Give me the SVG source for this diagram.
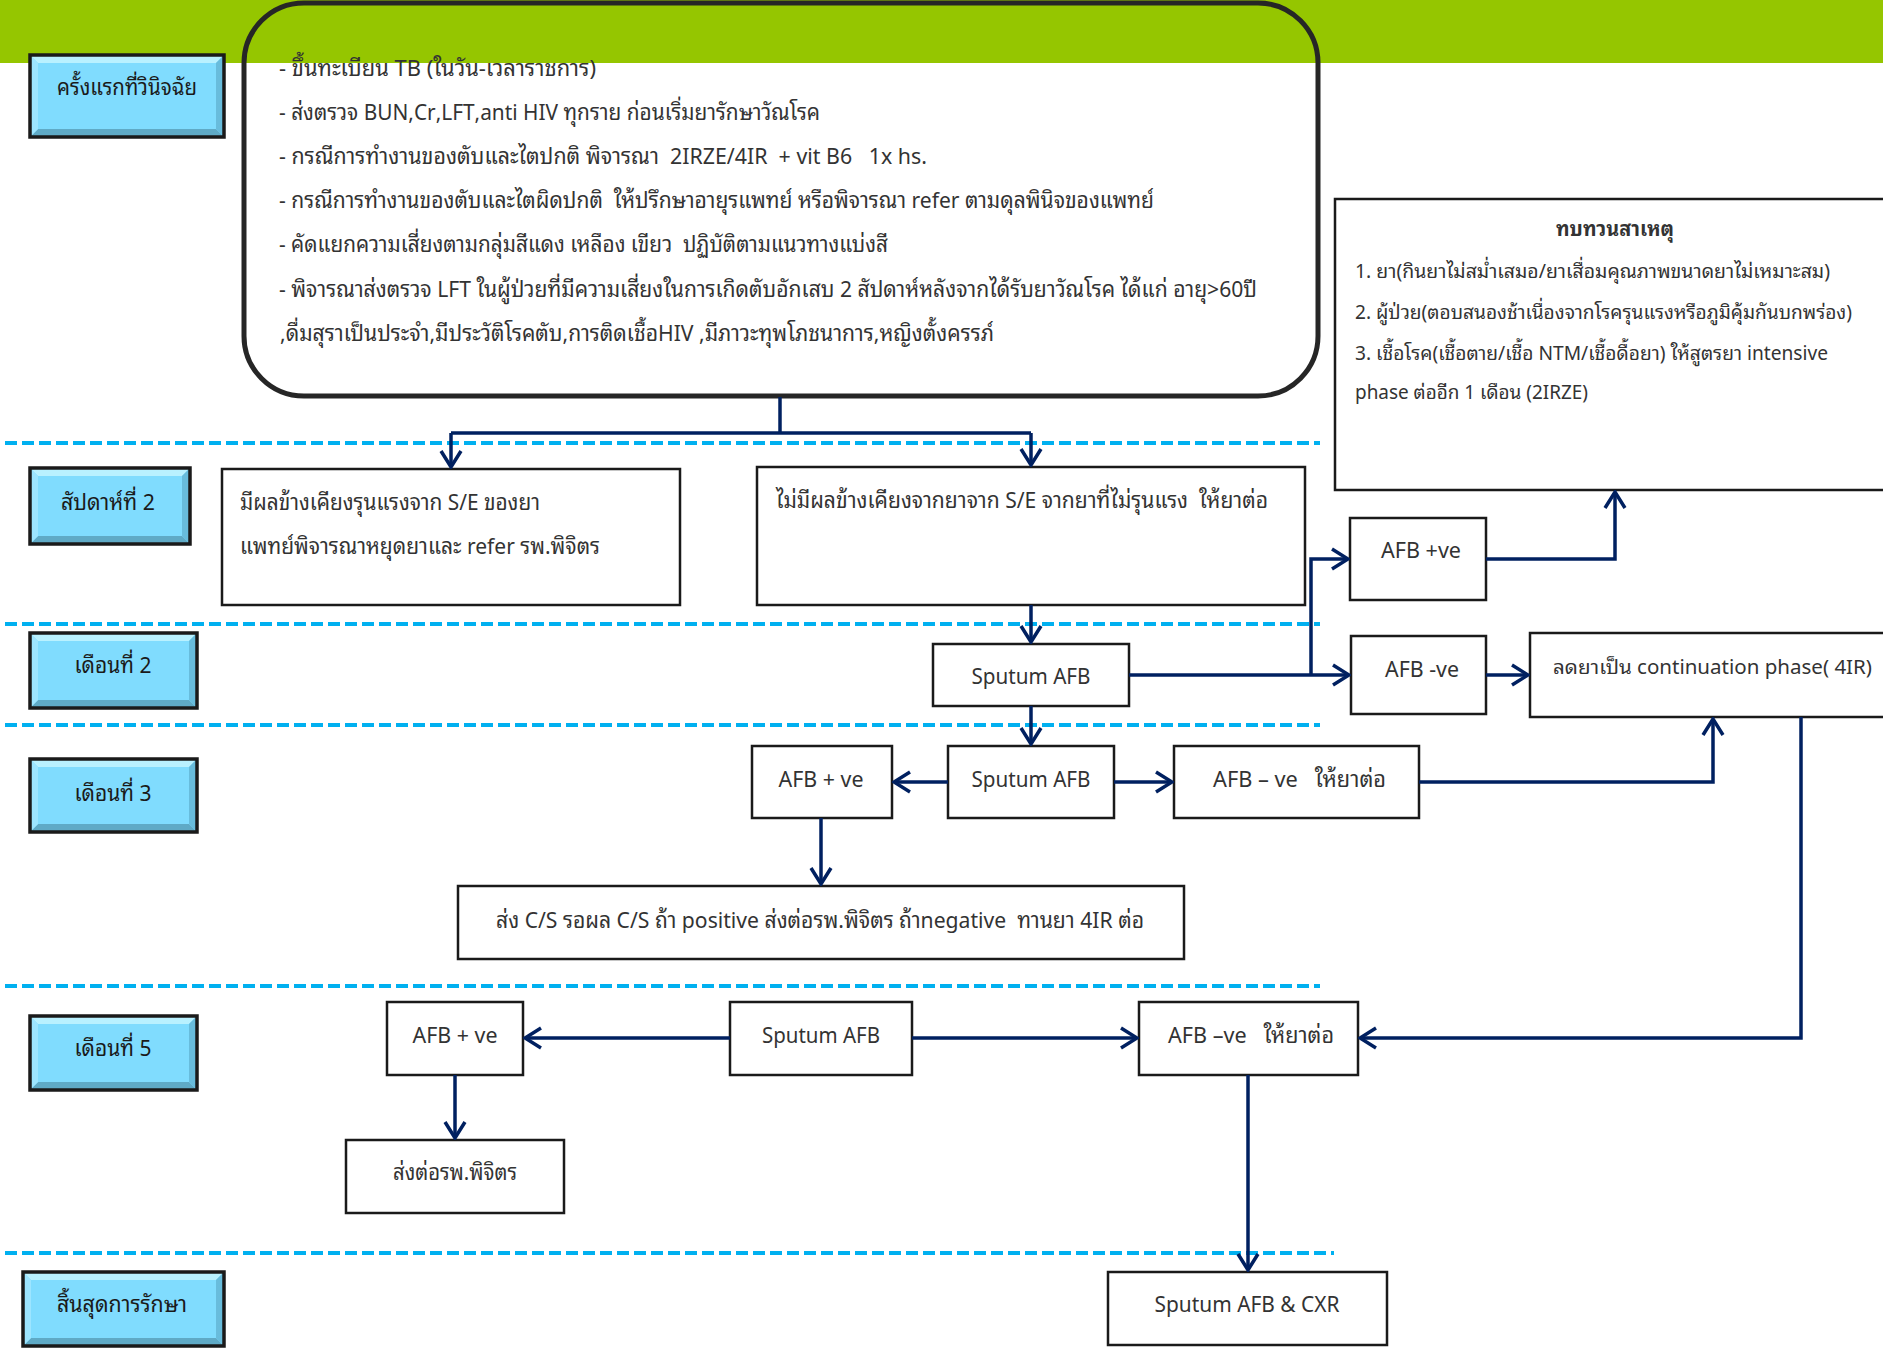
<svg xmlns="http://www.w3.org/2000/svg" width="1883" height="1354" viewBox="0 0 1883 1354">
  <style>
    text { font-family: "Noto Sans Thai Looped", "Noto Sans Thai", "Noto Sans", "Liberation Sans", sans-serif; white-space: pre; }
    .body { font-size: 22px; fill: #333333; }
    .note { font-size: 20px; fill: #333333; }
    .lbl { font-size: 22px; fill: #1a1a1a; text-anchor: middle; }
    .box { fill: #ffffff; stroke: #1a1a1a; stroke-width: 2.5; }
    .intro { fill: none; stroke: #262626; stroke-width: 5; }
    .tab { fill: #80dcfe; }
    .tab-edge { fill: none; stroke: #1a1a1a; stroke-width: 3.5; }
    .bev-t { fill: #b9f1ff; }
    .bev-b { fill: #5faac6; }
    .bev-l { fill: #9de5ff; }
    .bev-r { fill: #68bcdc; }
    .lane { fill: none; stroke: #00b0f0; stroke-width: 4; stroke-dasharray: 12 5; }
    .wire { fill: none; stroke: #002060; stroke-width: 3.5; }
    .arr { fill: none; stroke: #002060; stroke-width: 3.5; stroke-linejoin: miter; }
    .mid { text-anchor: middle; }
    .bold { font-weight: bold; }
  </style>
  <defs>
    <marker id="head" markerUnits="userSpaceOnUse" viewBox="-20 -13 22 26" refX="0" refY="0" markerWidth="22" markerHeight="26" orient="auto">
      <path class="arr" d="M-16,-10 L0,0 L-16,10"/>
    </marker>
  </defs>

  <!-- header band -->
  <rect x="0" y="0" width="1883" height="63" fill="#95c600"/>

  <!-- lane separators -->
  <g id="lanes">
    <line class="lane" x1="5" y1="443" x2="1320" y2="443"/>
    <line class="lane" x1="5" y1="624" x2="1320" y2="624"/>
    <line class="lane" x1="5" y1="725" x2="1320" y2="725"/>
    <line class="lane" x1="5" y1="986" x2="1320" y2="986"/>
    <line class="lane" x1="5" y1="1253" x2="1334" y2="1253"/>
  </g>

  <!-- time-step tabs -->
  <g id="tab-first">
    <rect class="tab" x="30" y="55" width="194" height="82"/>
    <polygon class="bev-t" points="30,55 224,55 216,63 38,63"/>
    <polygon class="bev-b" points="30,137 224,137 216,129 38,129"/>
    <polygon class="bev-l" points="30,55 38,63 38,129 30,137"/>
    <polygon class="bev-r" points="224,55 216,63 216,129 224,137"/>
    <rect class="tab-edge" x="30" y="55" width="194" height="82"/>
    <text class="lbl" x="127" y="95" textLength="140" lengthAdjust="spacingAndGlyphs">ครั้งแรกที่วินิจฉัย</text>
  </g>
  <g id="tab-week2">
    <rect class="tab" x="30" y="468" width="160" height="76"/>
    <polygon class="bev-t" points="30,468 190,468 182,476 38,476"/>
    <polygon class="bev-b" points="30,544 190,544 182,536 38,536"/>
    <polygon class="bev-l" points="30,468 38,476 38,536 30,544"/>
    <polygon class="bev-r" points="190,468 182,476 182,536 190,544"/>
    <rect class="tab-edge" x="30" y="468" width="160" height="76"/>
    <text class="lbl" x="108" y="510" textLength="94" lengthAdjust="spacingAndGlyphs">สัปดาห์ที่ 2</text>
  </g>
  <g id="tab-month2">
    <rect class="tab" x="30" y="633" width="167" height="75"/>
    <polygon class="bev-t" points="30,633 197,633 189,641 38,641"/>
    <polygon class="bev-b" points="30,708 197,708 189,700 38,700"/>
    <polygon class="bev-l" points="30,633 38,641 38,700 30,708"/>
    <polygon class="bev-r" points="197,633 189,641 189,700 197,708"/>
    <rect class="tab-edge" x="30" y="633" width="167" height="75"/>
    <text class="lbl" x="113" y="673" textLength="77" lengthAdjust="spacingAndGlyphs">เดือนที่ 2</text>
  </g>
  <g id="tab-month3">
    <rect class="tab" x="30" y="759" width="167" height="73"/>
    <polygon class="bev-t" points="30,759 197,759 189,767 38,767"/>
    <polygon class="bev-b" points="30,832 197,832 189,824 38,824"/>
    <polygon class="bev-l" points="30,759 38,767 38,824 30,832"/>
    <polygon class="bev-r" points="197,759 189,767 189,824 197,832"/>
    <rect class="tab-edge" x="30" y="759" width="167" height="73"/>
    <text class="lbl" x="113" y="801" textLength="77" lengthAdjust="spacingAndGlyphs">เดือนที่ 3</text>
  </g>
  <g id="tab-month5">
    <rect class="tab" x="30" y="1016" width="167" height="74"/>
    <polygon class="bev-t" points="30,1016 197,1016 189,1024 38,1024"/>
    <polygon class="bev-b" points="30,1090 197,1090 189,1082 38,1082"/>
    <polygon class="bev-l" points="30,1016 38,1024 38,1082 30,1090"/>
    <polygon class="bev-r" points="197,1016 189,1024 189,1082 197,1090"/>
    <rect class="tab-edge" x="30" y="1016" width="167" height="74"/>
    <text class="lbl" x="113" y="1056" textLength="77" lengthAdjust="spacingAndGlyphs">เดือนที่ 5</text>
  </g>
  <g id="tab-end">
    <rect class="tab" x="23" y="1272" width="201" height="74"/>
    <polygon class="bev-t" points="23,1272 224,1272 216,1280 31,1280"/>
    <polygon class="bev-b" points="23,1346 224,1346 216,1338 31,1338"/>
    <polygon class="bev-l" points="23,1272 31,1280 31,1338 23,1346"/>
    <polygon class="bev-r" points="224,1272 216,1280 216,1338 224,1346"/>
    <rect class="tab-edge" x="23" y="1272" width="201" height="74"/>
    <text class="lbl" x="122" y="1312" textLength="130" lengthAdjust="spacingAndGlyphs">สิ้นสุดการรักษา</text>
  </g>

  <!-- first-visit instructions -->
  <g id="intro">
    <rect class="intro" x="244" y="3" width="1074" height="393" rx="60" ry="60"/>
    <text class="body" x="279" y="76" textLength="317" lengthAdjust="spacingAndGlyphs">- ขึ้นทะเบียน TB (ในวัน-เวลาราชการ)</text>
    <text class="body" x="279" y="120" textLength="541" lengthAdjust="spacingAndGlyphs">- ส่งตรวจ BUN,Cr,LFT,anti HIV ทุกราย ก่อนเริ่มยารักษาวัณโรค</text>
    <text class="body" x="279" y="164" textLength="648" lengthAdjust="spacingAndGlyphs">- กรณีการทำงานของตับและไตปกติ พิจารณา  2IRZE/4IR  + vit B6   1x hs.</text>
    <text class="body" x="279" y="208" textLength="875" lengthAdjust="spacingAndGlyphs">- กรณีการทำงานของตับและไตผิดปกติ  ให้ปรึกษาอายุรแพทย์ หรือพิจารณา refer ตามดุลพินิจของแพทย์</text>
    <text class="body" x="279" y="252" textLength="609" lengthAdjust="spacingAndGlyphs">- คัดแยกความเสี่ยงตามกลุ่มสีแดง เหลือง เขียว  ปฏิบัติตามแนวทางแบ่งสี</text>
    <text class="body" x="279" y="297" textLength="978" lengthAdjust="spacingAndGlyphs">- พิจารณาส่งตรวจ LFT ในผู้ป่วยที่มีความเสี่ยงในการเกิดตับอักเสบ 2 สัปดาห์หลังจากได้รับยาวัณโรค ได้แก่ อายุ&gt;60ปี</text>
    <text class="body" x="280" y="341" textLength="714" lengthAdjust="spacingAndGlyphs">,ดื่มสุราเป็นประจำ,มีประวัติโรคตับ,การติดเชื้อHIV ,มีภาวะทุพโภชนาการ,หญิงตั้งครรภ์</text>
  </g>

  <!-- cause review (runs off the right edge) -->
  <g id="review">
    <rect class="box" x="1335" y="199" width="550" height="291"/>
    <text class="note bold mid" x="1615" y="236" textLength="118" lengthAdjust="spacingAndGlyphs">ทบทวนสาเหตุ</text>
    <text class="note" x="1355" y="278" textLength="475" lengthAdjust="spacingAndGlyphs">1. ยา(กินยาไม่สม่ำเสมอ/ยาเสื่อมคุณภาพขนาดยาไม่เหมาะสม)</text>
    <text class="note" x="1355" y="319" textLength="497" lengthAdjust="spacingAndGlyphs">2. ผู้ป่วย(ตอบสนองช้าเนื่องจากโรครุนแรงหรือภูมิคุ้มกันบกพร่อง)</text>
    <text class="note" x="1355" y="360" textLength="473" lengthAdjust="spacingAndGlyphs">3. เชื้อโรค(เชื้อตาย/เชื้อ NTM/เชื้อดื้อยา) ให้สูตรยา intensive</text>
    <text class="note" x="1355" y="399" textLength="233" lengthAdjust="spacingAndGlyphs">phase ต่ออีก 1 เดือน (2IRZE)</text>
  </g>

  <!-- week 2 -->
  <g id="severe-se">
    <rect class="box" x="222" y="469" width="458" height="136"/>
    <text class="body" x="240" y="510" textLength="300" lengthAdjust="spacingAndGlyphs">มีผลข้างเคียงรุนแรงจาก S/E ของยา</text>
    <text class="body" x="240" y="554" textLength="360" lengthAdjust="spacingAndGlyphs">แพทย์พิจารณาหยุดยาและ refer รพ.พิจิตร</text>
  </g>
  <g id="mild-se">
    <rect class="box" x="757" y="467" width="548" height="138"/>
    <text class="body" x="776" y="508" textLength="492" lengthAdjust="spacingAndGlyphs">ไม่มีผลข้างเคียงจากยาจาก S/E จากยาที่ไม่รุนแรง  ให้ยาต่อ</text>
  </g>
  <g id="afb-pos-w2">
    <rect class="box" x="1350" y="518" width="136" height="82"/>
    <text class="body" x="1381" y="558" textLength="80" lengthAdjust="spacingAndGlyphs">AFB +ve</text>
  </g>

  <!-- month 2 -->
  <g id="sputum-m2">
    <rect class="box" x="933" y="644" width="196" height="62"/>
    <text class="body mid" x="1031" y="684" textLength="119" lengthAdjust="spacingAndGlyphs">Sputum AFB</text>
  </g>
  <g id="afb-neg-m2">
    <rect class="box" x="1351" y="636" width="135" height="78"/>
    <text class="body" x="1385" y="677" textLength="74" lengthAdjust="spacingAndGlyphs">AFB -ve</text>
  </g>
  <g id="continuation">
    <rect class="box" x="1530" y="633" width="355" height="84"/>
    <text class="note" x="1553" y="674" textLength="319" lengthAdjust="spacingAndGlyphs">ลดยาเป็น continuation phase( 4IR)</text>
  </g>

  <!-- month 3 -->
  <g id="afb-pos-m3">
    <rect class="box" x="752" y="746" width="140" height="72"/>
    <text class="body mid" x="821" y="787" textLength="85" lengthAdjust="spacingAndGlyphs">AFB + ve</text>
  </g>
  <g id="sputum-m3">
    <rect class="box" x="948" y="746" width="166" height="72"/>
    <text class="body mid" x="1031" y="787" textLength="119" lengthAdjust="spacingAndGlyphs">Sputum AFB</text>
  </g>
  <g id="afb-neg-m3">
    <rect class="box" x="1174" y="746" width="245" height="72"/>
    <text class="body" x="1213" y="787" textLength="173" lengthAdjust="spacingAndGlyphs">AFB – ve   ให้ยาต่อ</text>
  </g>
  <g id="culture">
    <rect class="box" x="458" y="886" width="726" height="73"/>
    <text class="body" x="496" y="928" textLength="648" lengthAdjust="spacingAndGlyphs">ส่ง C/S รอผล C/S ถ้า positive ส่งต่อรพ.พิจิตร ถ้าnegative  ทานยา 4IR ต่อ</text>
  </g>

  <!-- month 5 -->
  <g id="afb-pos-m5">
    <rect class="box" x="387" y="1002" width="136" height="73"/>
    <text class="body mid" x="455" y="1043" textLength="85" lengthAdjust="spacingAndGlyphs">AFB + ve</text>
  </g>
  <g id="refer-m5">
    <rect class="box" x="346" y="1140" width="218" height="73"/>
    <text class="body mid" x="455" y="1180" textLength="124" lengthAdjust="spacingAndGlyphs">ส่งต่อรพ.พิจิตร</text>
  </g>
  <g id="sputum-m5">
    <rect class="box" x="730" y="1002" width="182" height="73"/>
    <text class="body mid" x="821" y="1043" textLength="118" lengthAdjust="spacingAndGlyphs">Sputum AFB</text>
  </g>
  <g id="afb-neg-m5">
    <rect class="box" x="1139" y="1002" width="219" height="73"/>
    <text class="body" x="1168" y="1043" textLength="166" lengthAdjust="spacingAndGlyphs">AFB –ve   ให้ยาต่อ</text>
  </g>
  <g id="final-check">
    <rect class="box" x="1108" y="1272" width="279" height="73"/>
    <text class="body mid" x="1247" y="1312" textLength="185" lengthAdjust="spacingAndGlyphs">Sputum AFB &amp; CXR</text>
  </g>

  <!-- connectors -->
  <g id="connectors">
    <path class="wire" d="M780,397 V433"/>
    <path class="wire" d="M451,433 H1031"/>
    <path class="wire" marker-end="url(#head)" d="M451,433 V467"/>
    <path class="wire" marker-end="url(#head)" d="M1031,433 V465"/>
    <path class="wire" marker-end="url(#head)" d="M1031,605 V642"/>
    <path class="wire" marker-end="url(#head)" d="M1129,675 H1349"/>
    <path class="wire" marker-end="url(#head)" d="M1311,675 V559 H1348"/>
    <path class="wire" marker-end="url(#head)" d="M1486,559 H1615 V492"/>
    <path class="wire" marker-end="url(#head)" d="M1486,675 H1528"/>
    <path class="wire" marker-end="url(#head)" d="M1031,706 V744"/>
    <path class="wire" marker-end="url(#head)" d="M948,782 H894"/>
    <path class="wire" marker-end="url(#head)" d="M1114,782 H1172"/>
    <path class="wire" marker-end="url(#head)" d="M1419,782 H1713 V719"/>
    <path class="wire" marker-end="url(#head)" d="M1801,717 V1038 H1360"/>
    <path class="wire" marker-end="url(#head)" d="M821,818 V884"/>
    <path class="wire" marker-end="url(#head)" d="M730,1038 H525"/>
    <path class="wire" marker-end="url(#head)" d="M912,1038 H1137"/>
    <path class="wire" marker-end="url(#head)" d="M455,1075 V1138"/>
    <path class="wire" marker-end="url(#head)" d="M1248,1075 V1270"/>
  </g>
</svg>
